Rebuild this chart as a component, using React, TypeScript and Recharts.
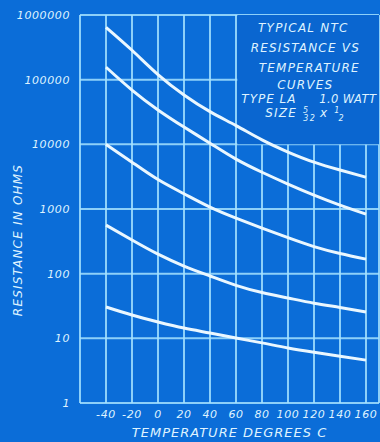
import React from 'react';
import { LineChart, Line, XAxis, YAxis, CartesianGrid, ReferenceArea } from 'recharts';

// temperature points (deg C)
const temps = [-40, -20, 0, 20, 40, 60, 80, 100, 120, 140, 160];

// resistance in ohms, one list per curve, top to bottom
const curveA = [646000, 285000, 120000, 58000, 32000, 19500, 11700, 7600, 5300, 4000, 3100];
const curveB = [156000, 69000, 34000, 18500, 10400, 5900, 3700, 2430, 1640, 1150, 834];
const curveC = [10000, 5300, 2850, 1720, 1070, 723, 507, 360, 262, 205, 168];
const curveD = [564, 331, 200, 131, 92, 66, 51, 42, 35, 30, 25.5];
const curveE = [30.5, 22.9, 17.9, 14.4, 12.1, 10.1, 8.5, 7.1, 6.1, 5.3, 4.6];

const xTicks = [-60, -40, -20, 0, 20, 40, 60, 80, 100, 120, 140, 160];
const yTicks = [1, 10, 100, 1000, 10000, 100000, 1000000];

const titleLines = ['TYPICAL NTC', 'RESISTANCE VS', 'TEMPERATURE', 'CURVES'];

const keys = ['a', 'b', 'c', 'd', 'e'];
const curves = [curveA, curveB, curveC, curveD, curveE];

const data = temps.map((t, i) => {
  const row: Record<string, number> = { temp: t };
  keys.forEach((k, j) => {
    row[k] = curves[j][i];
  });
  return row;
});

const BG = '#0b6dd8';
const GRID = '#a4e2ff';
const INK = '#dff3ff';
const CURVE = '#eaf7ff';

const textStyle = { fill: INK, fontStyle: 'italic' as const };

const TitleBox = (props: any) => {
  const { x, y } = props.viewBox;
  const centers = [66, 68, 72, 68];
  const rows = [17, 37, 57, 74];
  return (
    <g>
      {titleLines.map((line, i) => (
        <text
          key={line}
          x={x + centers[i]}
          y={y + rows[i]}
          textAnchor="middle"
          fontSize={12}
          letterSpacing={1.2}
          {...textStyle}
        >
          {line}
        </text>
      ))}
      <text x={x + 4} y={y + 88} fontSize={12} letterSpacing={1} {...textStyle}>
        TYPE LA
      </text>
      <text x={x + 82} y={y + 88} fontSize={11.5} letterSpacing={0.4} {...textStyle}>
        1.0 WATT
      </text>
      <text x={x + 28} y={y + 102} fontSize={12} letterSpacing={1.2} {...textStyle}>
        SIZE
        <tspan dx={6} dy={-4} fontSize={8}>5</tspan>
        <tspan dx={-6} dy={8} fontSize={8}>32</tspan>
        <tspan dx={4} dy={-4}>x</tspan>
        <tspan dx={6} dy={-4} fontSize={8}>1</tspan>
        <tspan dx={-2} dy={8} fontSize={8}>2</tspan>
      </text>
    </g>
  );
};

const YTitle = (props: any) => {
  const { x, y, height } = props.viewBox;
  const cx = x + 18;
  const cy = y + height / 2 + 31;
  return (
    <text
      x={cx}
      y={cy}
      transform={`rotate(-90 ${cx} ${cy})`}
      textAnchor="middle"
      dominantBaseline="central"
      fontSize={12}
      letterSpacing={1.2}
      {...textStyle}
    >
      RESISTANCE IN OHMS
    </text>
  );
};

const XTitle = (props: any) => {
  const { x, y, width, height } = props.viewBox;
  return (
    <text
      x={x + width / 2}
      y={y + height - 5}
      textAnchor="middle"
      fontSize={13}
      letterSpacing={1}
      {...textStyle}
    >
      TEMPERATURE DEGREES C
    </text>
  );
};

const App: React.FC = () => {
  const tick = { fill: INK, fontSize: 11, fontStyle: 'italic', letterSpacing: 0.6 };
  return (
    <div
      style={{
        position: 'absolute',
        left: 0,
        top: 0,
        width: 380,
        height: 442,
        background: BG,
        fontFamily: '"DejaVu Sans", sans-serif',
      }}
    >
      <LineChart width={380} height={442} data={data} margin={{ top: 15, right: 1, bottom: 0, left: 0 }}>
        <CartesianGrid stroke={GRID} strokeWidth={2} strokeOpacity={0.85} />
        <ReferenceArea
          x1={61}
          x2={170}
          y1={10000}
          y2={1000000}
          fill="#0a66d0"
          fillOpacity={1}
          stroke="none"
          label={{ content: TitleBox }}
        />
        <XAxis
          dataKey="temp"
          type="number"
          domain={[-60, 170]}
          ticks={xTicks}
          interval={0}
          tickFormatter={(v: number) => (v === -60 ? '' : String(v))}
          axisLine={false}
          tickLine={false}
          tickSize={0}
          tickMargin={7}
          height={39}
          tick={tick}
          label={{ content: XTitle }}
        />
        <YAxis
          scale="log"
          domain={[1, 1000000]}
          ticks={yTicks}
          interval={0}
          allowDataOverflow
          tickFormatter={(v: number) => String(v)}
          axisLine={false}
          tickLine={false}
          tickSize={0}
          tickMargin={10}
          width={80}
          tick={tick}
          label={{ content: YTitle }}
        />
        {keys.map((k) => (
          <Line
            key={k}
            dataKey={k}
            type="natural"
            stroke={CURVE}
            strokeWidth={3}
            dot={false}
            isAnimationActive={false}
          />
        ))}
      </LineChart>
    </div>
  );
};

export default App;
